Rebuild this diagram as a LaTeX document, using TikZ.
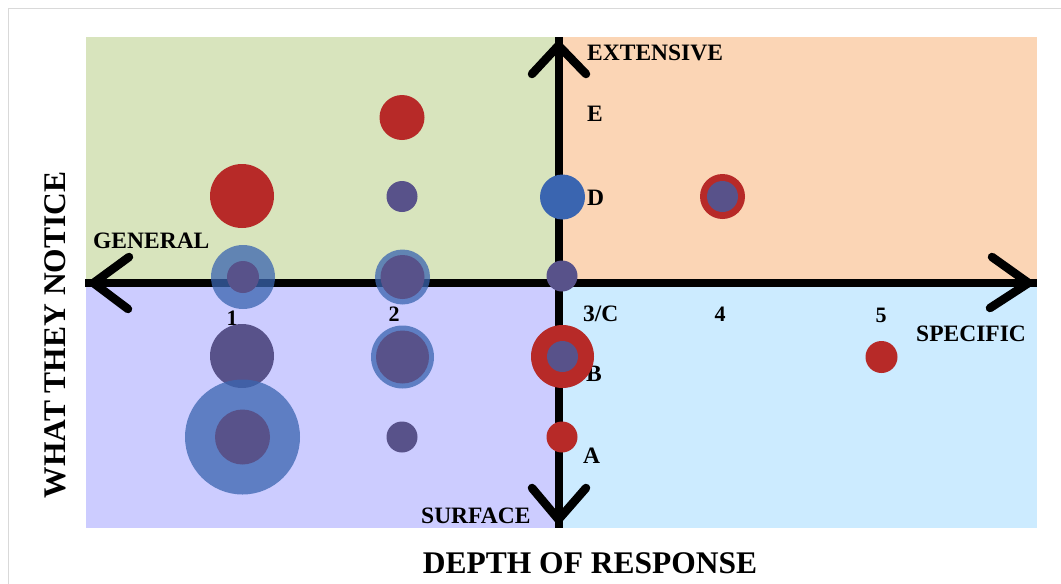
\documentclass[tikz,border=0pt]{standalone}
\usepackage{fontspec}
\setmainfont{Liberation Serif}
\usetikzlibrary{calc}
\definecolor{qgreen}{HTML}{D8E4BD}
\definecolor{qorange}{HTML}{FBD5B5}
\definecolor{qlav}{HTML}{CCCCFF}
\definecolor{qsky}{HTML}{CCEBFF}
\definecolor{cred}{HTML}{B72A28}
\definecolor{cpur}{HTML}{58528A}
\definecolor{cblue}{HTML}{3A65B0}
\definecolor{framegray}{HTML}{D9D9D9}
\begin{document}
\begin{tikzpicture}[x=1pt,y=-1pt,
  lbl/.style={font=\fontsize{23.5}{28}\selectfont\bfseries, inner sep=0pt, anchor=base west},
  num/.style={font=\fontsize{22}{26}\selectfont\bfseries, inner sep=0pt, anchor=base},
  heading/.style={font=\fontsize{31.5}{38}\selectfont\bfseries, inner sep=0pt, anchor=base},
  axisline/.style={line width=8pt, black, line cap=butt},
  chevron/.style={line width=8.5pt, black, line cap=round, line join=miter},
  dot/.style={circle, inner sep=0pt, outer sep=0pt, draw=none, minimum size=#1},
  reddot/.style={dot=#1, fill=cred},
  purdot/.style={dot=#1, fill=cpur},
  bluedot/.style={dot=#1, fill=cblue},
  halo/.style={dot=#1, fill=cblue, fill opacity=0.75},
]
\useasboundingbox (0,0) rectangle (1061,584);

% quadrant backgrounds
\fill[qgreen]  (86,37)    rectangle (558.5,283);
\fill[qorange] (558.5,37) rectangle (1037,283);
\fill[qlav]    (86,283)   rectangle (558.5,528);
\fill[qsky]    (558.5,283) rectangle (1037,528);

% page frame
\draw[framegray, line width=1.5pt] (8.5,584) -- (8.5,8.5) -- (1061,8.5);

% axis labels and scale marks
\node[lbl] (ext) at (587,60) {EXTENSIVE};
\node[lbl] (lE) at (587,121) {E};
\node[lbl] (lD) at (587,205.5) {D};
\node[lbl] (gen) at (93,248) {GENERAL};
\node[lbl] (l3C) at (583,321) {3/C};
\node[lbl] (lB) at (586,381.5) {B};
\node[lbl] (lA) at (583,463) {A};
\node[lbl] (spec) at (916,341) {SPECIFIC};
\node[lbl] (surf) at (421,523) {SURFACE};
\node[num] (n1) at (232,325) {1};
\node[num] (n2) at (394,321) {2};
\node[num] (n4) at (720,321) {4};
\node[num] (n5) at (881,322) {5};

% titles
\node[heading] (xtitle) at (590,573.5) {DEPTH OF RESPONSE};
\node[heading, rotate=90] (ytitle) at (65,335) {WHAT THEY NOTICE};

% axes
\coordinate (axL) at (85,283);
\coordinate (axR) at (1037,283);
\coordinate (axT) at (558.5,37);
\coordinate (axB) at (558.5,528);
\draw[axisline] (axL) -- (axR);
\draw[axisline] (axT) -- (axB);

% open arrowheads
\draw[chevron] ($(axL)+(44,-26)$) -- ($(axL)+(8.5,0)$) -- ($(axL)+(43,26)$);
\draw[chevron] ($(axR)+(-45,-26)$) -- ($(axR)+(-8.5,0)$) -- ($(axR)+(-47,25)$);
\draw[chevron] ($(axT)+(-26.5,37)$) -- ($(axT)+(0,8.5)$) -- ($(axT)+(27.5,37)$);
\draw[chevron] ($(axB)+(-26.5,-40)$) -- ($(axB)+(0,-8.5)$) -- ($(axB)+(27.5,-40)$);

% column 1
\node[reddot=64pt] (c1e) at (242,196) {};
\node[halo=64pt] (c1g) at (243,277) {};
\node[purdot=32pt] (c1gi) at (243,277) {};
\node[purdot=64pt] (c1s) at (242,356) {};
\node[halo=115pt] (c1a) at (242.5,437) {};
\node[purdot=55pt] (c1ai) at (242.5,437) {};

% column 2
\node[reddot=45pt] (c2e) at (402,117.5) {};
\node[purdot=31pt] (c2d) at (402,196.5) {};
\node[halo=55pt] (c2g) at (402.5,277) {};
\node[purdot=44pt] (c2gi) at (402.5,277) {};
\node[halo=63pt] (c2s) at (402.5,357) {};
\node[purdot=53pt] (c2si) at (402.5,357) {};
\node[purdot=31pt] (c2a) at (402,437) {};

% column 3
\node[bluedot=45pt] (c3d) at (562.5,197) {};
\node[purdot=31pt] (c3c) at (562,276) {};
\node[reddot=63pt] (c3b) at (562.5,356.5) {};
\node[purdot=31pt] (c3bi) at (562.5,356.5) {};
\node[reddot=31pt] (c3a) at (562,437) {};

% columns 4 and 5
\node[reddot=45pt] (c4d) at (722.5,196.5) {};
\node[purdot=31pt] (c4di) at (722.5,196.5) {};
\node[reddot=32pt] (c5s) at (881.5,357) {};
\end{tikzpicture}
\end{document}
